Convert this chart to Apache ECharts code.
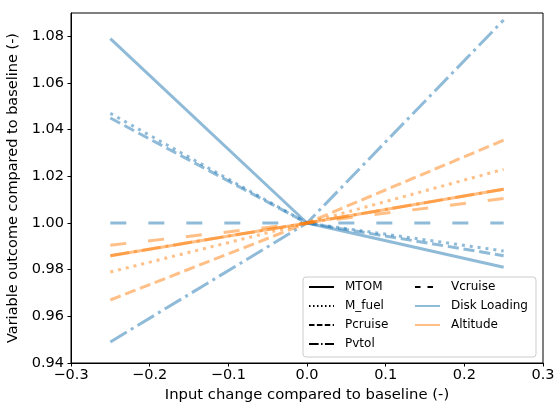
<!DOCTYPE html>
<html><head><meta charset="utf-8">
<script src="https://cdn.jsdelivr.net/npm/echarts@6/dist/echarts.min.js"></script>
<style>html,body{margin:0;padding:0;background:#fff}#c{width:557px;height:405px}</style>
</head><body><div id="c"></div>
<script>
// ---- data ----
const xValues = [-0.25, 0, 0.25];
const xTicks = [-0.3, -0.2, -0.1, 0.0, 0.1, 0.2, 0.3];
const yTicks = [0.94, 0.96, 0.98, 1.00, 1.02, 1.04, 1.06, 1.08];

const diskMTOM    = [1.079, 1.000, 0.981];
const diskMfuel   = [1.047, 1.000, 0.988];
const diskPcruise = [1.045, 1.000, 0.986];
const diskPvtol   = [0.949, 1.000, 1.087];
const diskVcruise = [1.000, 1.000, 1.000];

const altMTOM    = [0.986, 1.000, 1.0145];
const altMfuel   = [0.979, 1.000, 1.023];
const altPcruise = [0.967, 1.000, 1.0355];
const altPvtol   = [0.986, 1.000, 1.0145];
const altVcruise = [0.9905, 1.000, 1.0105];

const variables = ['MTOM', 'M_fuel', 'Pcruise', 'Pvtol', 'Vcruise'];
const groups = ['Disk Loading', 'Altitude'];

// ---- styles ----
const FONT = 'DejaVu Sans';
const groupColor = {'Disk Loading': 'rgba(31,119,180,0.5)', 'Altitude': 'rgba(255,127,14,0.5)'};
const dashFor = {
  'MTOM': 'solid',
  'M_fuel': [3, 4.95],
  'Pcruise': [11.1, 4.8],
  'Pvtol': [19.2, 4.8, 3, 4.8],
  'Vcruise': [16, 22]
};
const legendDash = {
  'MTOM': 'solid',
  'M_fuel': [1.5, 2.5],
  'Pcruise': [5.5, 2.4],
  'Pvtol': [9.6, 2.4, 1.5, 2.4],
  'Vcruise': [5.5, 7]
};
const seriesData = {
  'Disk Loading': {MTOM: diskMTOM, M_fuel: diskMfuel, Pcruise: diskPcruise, Pvtol: diskPvtol, Vcruise: diskVcruise},
  'Altitude': {MTOM: altMTOM, M_fuel: altMfuel, Pcruise: altPcruise, Pvtol: altPvtol, Vcruise: altVcruise}
};

const fmtMinus = s => s.replace('-', '\u2212');

const series = [];
groups.forEach(g => {
  variables.forEach(v => {
    series.push({
      name: g + ' ' + v,
      type: 'line',
      symbol: 'none',
      silent: true,
      z: 2,
      data: xValues.map((x, i) => [x, seriesData[g][v][i]]),
      lineStyle: {color: groupColor[g], width: 3, type: dashFor[v], cap: 'butt'}
    });
  });
});
// legend-only entries
variables.forEach(v => {
  series.push({name: v, type: 'line', symbol: 'none', data: [],
    itemStyle: {color: '#000'},
    lineStyle: {color: '#000', width: 1.5, type: legendDash[v]}});
});
groups.forEach(g => {
  series.push({name: g, type: 'line', symbol: 'none', data: [],
    itemStyle: {color: groupColor[g]},
    lineStyle: {color: groupColor[g], width: 3, type: 'solid'}});
});

const legendCommon = {
  orient: 'vertical', padding: 0, itemGap: 7, itemWidth: 25, itemHeight: 13,
  itemStyle: {opacity: 0},
  textStyle: {fontFamily: FONT, fontSize: 12, color: '#000', padding: [0, 0, 0, 6]},
  z: 5, selectedMode: false
};

const chart = echarts.init(document.getElementById('c'), null, {renderer: 'canvas'});
chart.setOption({
  animation: false,
  grid: {left: 71, right: 14, top: 13, bottom: 42, show: true, borderColor: '#000', borderWidth: 1,
    backgroundColor: 'transparent', containLabel: false, outerBoundsMode: 'none'},
  xAxis: {
    type: 'value', min: -0.3, max: 0.3, interval: 0.1,
    name: 'Input change compared to baseline (-)', nameLocation: 'middle', nameGap: 25,
    nameTextStyle: {fontFamily: FONT, fontSize: 14.8, color: '#000'},
    axisLine: {show: true, onZero: false, lineStyle: {color: '#000', width: 1}},
    axisTick: {show: true, inside: false, length: 3.5, lineStyle: {color: '#000'}},
    axisLabel: {fontFamily: FONT, fontSize: 14.5, color: '#000', margin: 5,
      customValues: xTicks,
      formatter: v => fmtMinus(Number(v).toFixed(1))},
    splitLine: {show: false}
  },
  yAxis: {
    type: 'value', min: 0.94, max: 1.09,
    name: 'Variable outcome compared to baseline (-)', nameLocation: 'middle', nameGap: 45,
    nameTextStyle: {fontFamily: FONT, fontSize: 14.5, color: '#000'},
    axisLine: {show: true, onZero: false, lineStyle: {color: '#000', width: 1}},
    axisTick: {show: true, inside: false, length: 3.5, lineStyle: {color: '#000'}, customValues: yTicks},
    axisLabel: {fontFamily: FONT, fontSize: 14.5, color: '#000', margin: 7,
      customValues: yTicks,
      formatter: v => Number(v).toFixed(2)},
    splitLine: {show: false}
  },
  graphic: [{
    type: 'rect', z: 4, silent: true,
    shape: {x: 303, y: 277, width: 233, height: 80, r: 3},
    style: {fill: 'rgba(255,255,255,0.8)', stroke: '#cccccc', lineWidth: 1}
  }],
  legend: [
    Object.assign({}, legendCommon, {left: 308, top: 281, data: ['MTOM', 'M_fuel', 'Pcruise', 'Pvtol']}),
    Object.assign({}, legendCommon, {left: 414, top: 281, data: ['Vcruise', 'Disk Loading', 'Altitude']})
  ],
  series: series
});
</script>
</body></html>
